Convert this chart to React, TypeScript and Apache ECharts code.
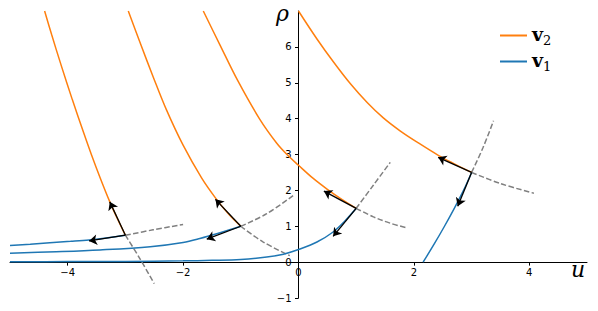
import React, { useEffect, useRef } from "react";
import * as echarts from "echarts";

// Tick values
const xTicks = [-4, -2, 0, 2, 4];
const yTicks = [-1, 0, 1, 2, 3, 4, 5, 6];

// v2 integral curves (orange), [u, rho]
const v2CurveA: number[][] = [[-4.40, 7.0], [-4.28, 6.35], [-4.11, 5.47], [-3.92, 4.53], [-3.72, 3.59], [-3.59, 3.0], [-3.44, 2.36], [-3.27, 1.68], [-3.13, 1.18], [-3.0, 0.75]];
const v2CurveB: number[][] = [[-2.95, 7.0], [-2.73, 6.05], [-2.52, 5.17], [-2.29, 4.25], [-2.0, 3.26], [-1.68, 2.35], [-1.42, 1.75], [-1.2, 1.32], [-1.0, 1.0]];
const v2CurveC: number[][] = [[-1.65, 7.0], [-1.36, 6.05], [-1.05, 5.05], [-0.67, 3.98], [-0.38, 3.32], [-0.2, 3.0], [0, 2.7], [0.25, 2.34], [0.5, 2.03], [0.75, 1.75], [1.0, 1.5]];
const v2CurveD: number[][] = [[0, 7.0], [0.32, 6.22], [0.61, 5.57], [0.9, 4.97], [1.19, 4.45], [1.47, 4.02], [1.76, 3.66], [2.05, 3.35], [2.43, 2.97], [2.7, 2.74], [3.0, 2.5]];

// v1 integral curves (blue)
const v1CurveA: number[][] = [[-5, 0.46], [-4.65, 0.50], [-4.31, 0.54], [-3.95, 0.58], [-3.63, 0.62], [-3.3, 0.68], [-3.0, 0.75]];
const v1CurveB: number[][] = [[-5, 0.25], [-4.2, 0.29], [-3.44, 0.34], [-2.57, 0.43], [-2.0, 0.55], [-1.71, 0.66], [-1.36, 0.82], [-1.0, 1.0]];
const v1CurveC: number[][] = [[-5, 0.01], [-4, 0.015], [-3, 0.02], [-2, 0.035], [-1.5, 0.05], [-1, 0.075], [-0.55, 0.14], [-0.26, 0.22], [0, 0.35], [0.32, 0.56], [0.6, 0.84], [0.8, 1.14], [1.0, 1.5]];
const v1CurveD: number[][] = [[2.16, 0], [2.35, 0.5], [2.53, 1.0], [2.7, 1.5], [2.86, 2.0], [3.0, 2.5]];

// gray dashed curves
const dashed1a: number[][] = [[-3, 0.75], [-2.52, 0.9], [-2.0, 1.05]];
const dashed1b: number[][] = [[-3, 0.75], [-2.75, 0.1], [-2.5, -0.6]];
const dashed2a: number[][] = [[-1, 1], [-0.55, 1.35], [-0.08, 1.87]];
const dashed2b: number[][] = [[-1, 1], [-0.61, 0.56], [-0.15, 0.18]];
const dashed3a: number[][] = [[1, 1.5], [1.3, 2.15], [1.59, 2.78]];
const dashed3b: number[][] = [[1, 1.5], [1.3, 1.26], [1.6, 1.08], [1.89, 0.95]];
const dashed4a: number[][] = [[3, 2.5], [3.2, 3.2], [3.38, 3.94]];
const dashed4b: number[][] = [[3, 2.5], [3.5, 2.19], [4.08, 1.92]];

// arrows: base points and tips
const basePoints: number[][] = [[-3, 0.75], [-1, 1], [1, 1.5], [3, 2.5]];
const v2Tips: number[][] = [[-3.27, 1.68], [-1.44, 1.75], [0.44, 1.98], [2.42, 2.92]];
const v1Tips: number[][] = [[-3.63, 0.59], [-1.59, 0.64], [0.6, 0.72], [2.76, 1.56]];

const ORANGE = "#ff7f0e";
const BLUE = "#1f77b4";
const GRAY = "#808080";

const minus = (v: number) => String(v).replace("-", "\u2212");

const W = 598;
const H = 311;
const GRID = { left: 10, right: 11, top: 11, bottom: 13 };
const X_MIN = -5, X_MAX = 5, Y_MIN = -1, Y_MAX = 7;

export default function App() {
  const ref = useRef<HTMLDivElement>(null);
  useEffect(() => {
    if (!ref.current) return;
    const chart = echarts.init(ref.current, undefined, { renderer: "svg" });
    const gw = W - GRID.left - GRID.right;
    const gh = H - GRID.top - GRID.bottom;
    // offsets that place the spines through the origin
    const yOffset = -((0 - X_MIN) / (X_MAX - X_MIN)) * gw;
    const xOffset = -((0 - Y_MIN) / (Y_MAX - Y_MIN)) * gh;

    const curve = (data: number[][], color: string, name?: string) => ({
      type: "line",
      name,
      data,
      symbol: "none",
      showSymbol: false,
      smooth: 0.35,
      lineStyle: { color, width: 1.5 },
      itemStyle: { color },
      z: 3,
    });
    const dash = (data: number[][]) => ({
      type: "line",
      data,
      symbol: "none",
      showSymbol: false,
      smooth: 0.35,
      lineStyle: { color: GRAY, width: 1.5, type: [5.5, 2.4] },
      z: 2,
    });
    const arrowData = basePoints.flatMap((p, i) => [
      { coords: [p, v2Tips[i]] },
      { coords: [p, v1Tips[i]] },
    ]);
    const option: any = {
      animation: false,
      grid: { ...GRID, outerBoundsMode: "none" },
      xAxis: {
        type: "value",
        min: X_MIN,
        max: X_MAX,
        offset: xOffset,
        axisLine: { onZero: false, lineStyle: { color: "#000", width: 1 } },
        axisTick: { length: 3.5, customValues: xTicks, lineStyle: { color: "#000" } },
        axisLabel: {
          customValues: xTicks,
          formatter: minus,
          fontSize: 10,
          color: "#000",
          fontFamily: "DejaVu Sans",
          margin: 5,
        },
        splitLine: { show: false },
      },
      yAxis: {
        type: "value",
        min: Y_MIN,
        max: Y_MAX,
        offset: yOffset,
        axisLine: { onZero: false, lineStyle: { color: "#000", width: 1 } },
        axisTick: { length: 3.5, customValues: yTicks, lineStyle: { color: "#000" } },
        axisLabel: {
          customValues: yTicks,
          formatter: minus,
          fontSize: 10,
          color: "#000",
          fontFamily: "DejaVu Sans",
          margin: 7,
        },
        splitLine: { show: false },
      },
      legend: {
        data: [
          { name: "v2", icon: "rect" },
          { name: "v1", icon: "rect" },
        ],
        orient: "vertical",
        left: 495,
        top: 19,
        itemWidth: 27,
        itemHeight: 2,
        itemGap: 3,
        formatter: (name: string) => `{b|v}{s|${name.slice(1)}}`,
        textStyle: {
          rich: {
            b: { fontFamily: "DejaVu Serif", fontWeight: "bold", fontSize: 19, color: "#000", padding: [0, 0, 4, 0] },
            s: { fontFamily: "DejaVu Serif", fontSize: 13, color: "#000", verticalAlign: "bottom" },
          },
        },
      },
      graphic: [
        { type: "text", left: 571, top: 258, style: { text: "u", font: "italic 22px 'DejaVu Serif'", fill: "#000" } },
        { type: "text", left: 276, top: 2, style: { text: "\u03c1", font: "italic 22px 'DejaVu Serif'", fill: "#000" } },
      ],
      series: [
        dash(dashed1a), dash(dashed1b), dash(dashed2a), dash(dashed2b),
        dash(dashed3a), dash(dashed3b), dash(dashed4a), dash(dashed4b),
        curve(v2CurveA, ORANGE, "v2"), curve(v2CurveB, ORANGE, "v2"),
        curve(v2CurveC, ORANGE, "v2"), curve(v2CurveD, ORANGE, "v2"),
        curve(v1CurveA, BLUE, "v1"), curve(v1CurveB, BLUE, "v1"),
        curve(v1CurveC, BLUE, "v1"), curve(v1CurveD, BLUE, "v1"),
        {
          type: "lines",
          coordinateSystem: "cartesian2d",
          data: arrowData,
          symbol: ["none", "arrow"],
          symbolSize: [5, 8],
          lineStyle: { color: "#000", width: 1.3, opacity: 1, curveness: 0 },
          z: 5,
        },
      ],
    };
    chart.setOption(option);
    return () => chart.dispose();
  }, []);
  return (
    <div
      ref={ref}
      style={{ position: "fixed", left: 0, top: 0, width: W, height: H, background: "#fff" }}
    />
  );
}
